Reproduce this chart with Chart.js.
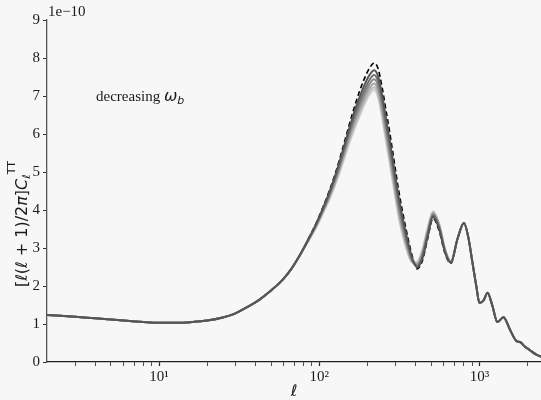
<!DOCTYPE html>
<html>
<head>
<meta charset="utf-8">
<script src="https://cdn.jsdelivr.net/npm/chart.js@4.4.1/dist/chart.umd.min.js"></script>
<style>
    html, body { margin: 0; padding: 0; background: #f7f7f7; }
    #wrap { width: 541px; height: 400px; }
</style>
</head>
<body>
<div id="wrap"><canvas id="chartCl" width="541" height="400"></canvas></div>
<script>
// espectro TT (unidade 1e-10)

// multipolos baixos, iguais para todas as curvas
const ellHead = [2, 3, 4, 5, 6, 8, 10, 13, 16, 20, 25, 30, 36, 42, 50, 59, 67, 75];
const valsHead = [1.24, 1.19, 1.15, 1.12, 1.09, 1.05, 1.03, 1.03, 1.05, 1.09, 1.17, 1.28, 1.46, 1.63, 1.88, 2.16, 2.45, 2.78];

// regiao dos dois primeiros picos, onde as curvas se separam
const ellMid = [85, 96, 106, 115, 125, 133, 143, 154, 166, 178, 191, 205, 220, 233, 247, 260, 273, 293, 315, 348, 380, 408, 440, 475, 513, 560, 610, 663];
const midDashed = [3.22, 3.67, 4.10, 4.48, 4.92, 5.29, 5.76, 6.25, 6.72, 7.11, 7.45, 7.72, 7.87, 7.72, 7.22, 6.66, 6.14, 5.30, 4.45, 3.50, 2.80, 2.45, 2.66, 3.25, 3.78, 3.45, 2.85, 2.60];
const midGray1 = [3.21, 3.65, 4.07, 4.44, 4.87, 5.23, 5.68, 6.15, 6.60, 6.96, 7.28, 7.54, 7.68, 7.52, 7.02, 6.45, 5.93, 5.10, 4.28, 3.38, 2.74, 2.49, 2.72, 3.30, 3.82, 3.50, 2.88, 2.61];
const midGray2 = [3.20, 3.63, 4.04, 4.40, 4.82, 5.17, 5.61, 6.06, 6.49, 6.84, 7.15, 7.41, 7.55, 7.38, 6.88, 6.31, 5.78, 4.96, 4.15, 3.28, 2.70, 2.52, 2.77, 3.35, 3.86, 3.54, 2.90, 2.62];
const midGray3 = [3.19, 3.61, 4.01, 4.36, 4.77, 5.11, 5.54, 5.98, 6.39, 6.73, 7.04, 7.30, 7.44, 7.26, 6.75, 6.18, 5.65, 4.83, 4.03, 3.20, 2.67, 2.55, 2.82, 3.40, 3.89, 3.57, 2.92, 2.63];
const midGray4 = [3.18, 3.59, 3.98, 4.32, 4.72, 5.05, 5.47, 5.90, 6.29, 6.62, 6.93, 7.19, 7.33, 7.14, 6.62, 6.05, 5.52, 4.71, 3.92, 3.12, 2.65, 2.58, 2.87, 3.45, 3.92, 3.60, 2.94, 2.64];
const midGray5 = [3.17, 3.57, 3.95, 4.28, 4.67, 4.99, 5.40, 5.82, 6.20, 6.52, 6.83, 7.09, 7.23, 7.03, 6.50, 5.93, 5.40, 4.60, 3.82, 3.05, 2.63, 2.61, 2.92, 3.50, 3.95, 3.63, 2.96, 2.65];
const midGray6 = [3.16, 3.55, 3.93, 4.25, 4.63, 4.94, 5.34, 5.75, 6.13, 6.45, 6.76, 7.02, 7.16, 6.95, 6.42, 5.84, 5.31, 4.52, 3.75, 3.00, 2.62, 2.64, 2.96, 3.54, 3.97, 3.65, 2.97, 2.66];

// cauda de amortecimento, igual para todas
const ellTail = [730, 800, 850, 905, 955, 1000, 1060, 1122, 1200, 1294, 1411, 1550, 1701, 1800, 1900, 2050, 2250, 2500];
const valsTail = [3.25, 3.66, 3.30, 2.60, 2.00, 1.55, 1.62, 1.82, 1.50, 1.05, 1.18, 0.85, 0.55, 0.52, 0.42, 0.32, 0.20, 0.12];

const seriesMid = [midDashed, midGray1, midGray2, midGray3, midGray4, midGray5, midGray6];
const seriesColors = ['#000000', '#555555', '#707070', '#8a8a8a', '#a3a3a3', '#bcbcbc', '#d4d4d4'];
// tracejada por baixo, cinzas do mais claro (baixo) ao mais escuro (cima)
const seriesOrder = [10, 3, 4, 5, 6, 7, 8];

const yTicks = [0, 1, 2, 3, 4, 5, 6, 7, 8, 9];
const xDecades = [1, 10, 100, 1000];
const xMultiples = [1, 2, 3, 4, 5, 6, 7, 8, 9];
const xMin = 2, xMax = 2420;
const offsetText = '1e\u221210';

function buildPoints(mid) {
    const ell = ellHead.concat(ellMid, ellTail);
    const vals = valsHead.concat(mid, valsTail);
    return ell.map((l, i) => ({ x: l, y: vals[i] }));
}

function supDigit(n) {
    return ({ 1: '\u00b9', 2: '\u00b2', 3: '\u00b3' })[n] || '';
}

// desenha uma sequencia de pedacos de texto com fontes diferentes
function drawRuns(ctx, x, y, runs) {
    let cx = x;
    runs.forEach(r => {
        ctx.font = r.font;
        ctx.fillText(r.t, cx, y + (r.dy || 0));
        cx += ctx.measureText(r.t).width;
    });
    return cx;
}

function runsWidth(ctx, runs) {
    let w = 0;
    runs.forEach(r => { ctx.font = r.font; w += ctx.measureText(r.t).width; });
    return w;
}

const extraText = {
    id: 'extraText',
    afterDraw(chart) {
        const ctx = chart.ctx;
        const area = chart.chartArea;
        ctx.save();
        ctx.fillStyle = '#1a1a1a';
        ctx.textBaseline = 'alphabetic';
        ctx.textAlign = 'left';

        ctx.font = '15px "Liberation Serif"';
        ctx.fillText(offsetText, area.left + 1, area.top - 4);

        ctx.textAlign = 'center';
        ctx.font = 'italic 16px "DejaVu Sans"';
        ctx.fillText('\u2113', (area.left + area.right) / 2, 396);
        ctx.textAlign = 'left';

        const serif = '15px "Liberation Serif"';
        const it = 'italic 16px "DejaVu Sans"';
        const itSmall = 'italic 11px "DejaVu Sans"';
        drawRuns(ctx, 96, 101, [
            { t: 'decreasing ', font: serif },
            { t: '\u03c9', font: it },
            { t: 'b', font: itSmall, dy: 3 }
        ]);

        // titulo do eixo y
        const up = '16px "DejaVu Sans"';
        const title = [
            { t: '[', font: up },
            { t: '\u2113', font: it },
            { t: '(', font: up },
            { t: '\u2113', font: it },
            { t: ' + 1)/2', font: up },
            { t: '\u03c0', font: it },
            { t: ']', font: up },
            { t: 'C', font: it },
            { t: '\u2113', font: itSmall, dy: 3 },
            { t: 'TT', font: '11px "DejaVu Sans"', dy: -12 }
        ];
        const w = runsWidth(ctx, title);
        ctx.translate(27, 224);
        ctx.rotate(-Math.PI / 2);
        drawRuns(ctx, -w / 2, 0, title);
        ctx.restore();
    }
};

const datasets = seriesMid.map((mid, i) => ({
    data: buildPoints(mid),
    borderColor: seriesColors[i],
    borderWidth: i === 0 ? 1.6 : 2,
    borderDash: i === 0 ? [5, 3] : [],
    order: seriesOrder[i],
    pointRadius: 0,
    fill: false,
    cubicInterpolationMode: 'monotone'
}));

const ctx = document.getElementById('chartCl').getContext('2d');
new Chart(ctx, {
    type: 'line',
    data: { datasets: datasets },
    options: {
        responsive: false,
        animation: false,
        devicePixelRatio: 1,
        layout: { padding: { top: 20, right: 0, left: 0, bottom: 0 } },
        plugins: {
            legend: { display: false },
            tooltip: { enabled: false }
        },
        scales: {
            x: {
                type: 'logarithmic',
                min: xMin,
                max: xMax,
                afterBuildTicks: scale => {
                    const vals = [];
                    xDecades.forEach(d => xMultiples.forEach(m => {
                        const v = d * m;
                        if (v > xMin && v < xMax) vals.push(v);
                    }));
                    scale.ticks = vals.map(v => ({ value: v }));
                },
                afterFit: scale => { scale.height = 38; },
                ticks: {
                    autoSkip: false,
                    maxRotation: 0,
                    padding: 2,
                    color: '#1a1a1a',
                    font: { family: 'Liberation Serif', size: 15 },
                    callback: v => {
                        const e = Math.round(Math.log10(v));
                        return Math.abs(v - Math.pow(10, e)) < 1e-9 && e > 0 ? '10' + supDigit(e) : '';
                    }
                },
                grid: {
                    drawOnChartArea: false,
                    drawTicks: true,
                    tickLength: 4,
                    tickColor: '#222',
                    tickWidth: c => {
                        const e = Math.log10(c.tick.value);
                        return Math.abs(e - Math.round(e)) < 1e-9 ? 1.2 : 0.8;
                    }
                },
                border: { display: true, color: '#222', width: 1.3 }
            },
            y: {
                min: 0,
                max: 9,
                afterBuildTicks: scale => { scale.ticks = yTicks.map(v => ({ value: v })); },
                afterFit: scale => { scale.width = 47; },
                ticks: {
                    padding: 3,
                    color: '#1a1a1a',
                    font: { family: 'Liberation Serif', size: 15 }
                },
                grid: {
                    drawOnChartArea: false,
                    drawTicks: true,
                    tickLength: 4,
                    tickColor: '#333',
                    tickWidth: 1
                },
                border: { display: true, color: '#555', width: 1.3 }
            }
        }
    },
    plugins: [extraText]
});
</script>
</body>
</html>
